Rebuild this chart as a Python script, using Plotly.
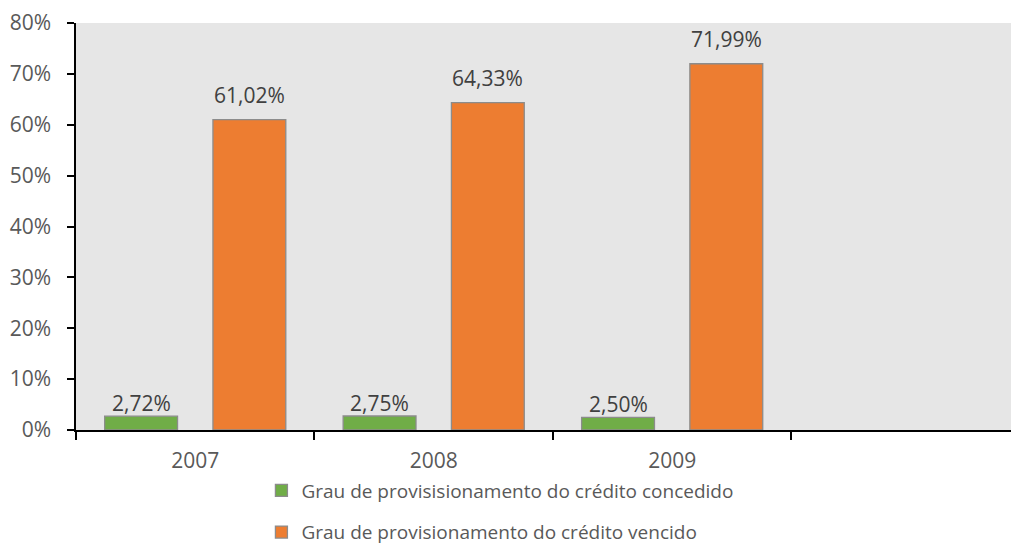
import plotly.graph_objects as go

categories = ["2007", "2008", "2009"]
concedido = [0.0272, 0.0275, 0.0250]
vencido = [0.6102, 0.6433, 0.7199]
name_concedido = "Grau de provisisionamento do crédito concedido"
name_vencido = "Grau de provisionamento do crédito vencido"
y_ticks = [0, 0.1, 0.2, 0.3, 0.4, 0.5, 0.6, 0.7, 0.8]

FONT = "Open Sans"
FS_TICK = 21
FS_LABEL = 21
FS_LEGEND = 19
GREEN = "#70ad47"
ORANGE = "#ed7d31"
EDGE = "#8c8c8c"

fig = go.Figure()
fig.add_trace(go.Bar(x=categories, y=concedido, name=name_concedido,
                     marker=dict(color=GREEN, line=dict(color=EDGE, width=1.3)),
                     legendgroup="a"))
fig.add_trace(go.Bar(x=categories, y=vencido, name=name_vencido,
                     marker=dict(color=ORANGE, line=dict(color=EDGE, width=1.3)),
                     legendgroup="b"))

annotations = []
for i, v in enumerate(concedido):
    annotations.append(dict(x=i, y=v, text=f"{v*100:.2f}%".replace(".", ","),
                            xref="x", yref="y", showarrow=False, yanchor="bottom",
                            xshift=-54, yshift=-3,
                            font=dict(family=FONT, size=FS_LABEL, color="#404040")))
for i, v in enumerate(vencido):
    annotations.append(dict(x=i, y=v, text=f"{v*100:.2f}%".replace(".", ","),
                            xref="x", yref="y", showarrow=False, yanchor="bottom",
                            xshift=54, yshift=9,
                            font=dict(family=FONT, size=FS_LABEL, color="#404040")))

fig.update_layout(
    width=1011, height=539,
    margin=dict(l=68, r=2, t=15, b=117, autoexpand=False),
    paper_bgcolor="white",
    plot_bgcolor="#e6e6e6",
    barmode="group",
    bargap=0.092,
    bargroupgap=0.327,
    font=dict(family=FONT, size=FS_TICK, color="#595959"),
    showlegend=True,
    legend=dict(orientation="v", x=0.4505, y=-0.102, xanchor="center", yanchor="top",
                traceorder="grouped", tracegroupgap=14,
                borderwidth=0,
                font=dict(family=FONT, size=FS_LEGEND, color="#595959"),
                bgcolor="rgba(0,0,0,0)"),
    annotations=annotations,
    xaxis=dict(type="category", range=[-0.5, 3.446], showgrid=False,
               showline=True, linecolor="black", linewidth=1.5,
               ticks="outside", tickson="boundaries", ticklen=8,
               tickcolor="black", tickwidth=1.5,
               tickfont=dict(family=FONT, size=FS_TICK, color="#595959"),
               ticklabelstandoff=11),
    yaxis=dict(range=[0, 0.8], tickvals=y_ticks, tickformat=".0%",
               showgrid=False, zeroline=False,
               showline=True, linecolor="black", linewidth=1.5,
               ticks="outside", ticklen=7, tickcolor="black", tickwidth=1.5,
               tickfont=dict(family=FONT, size=FS_TICK, color="#595959"),
               ticklabelstandoff=12),
)

fig.write_html("out.html")
